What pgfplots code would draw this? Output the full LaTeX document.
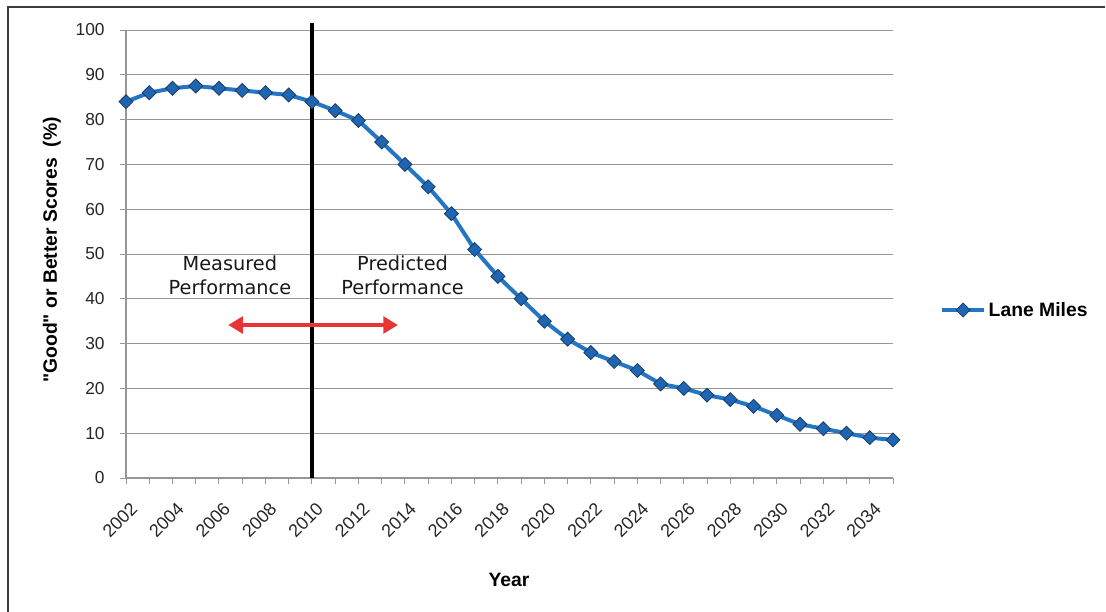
\documentclass[border=0pt]{standalone}
\usepackage{pgfplots}
\pgfplotsset{compat=1.18}
\usepackage{pgfplotstable}
\usepackage{fontspec}
\setmainfont{Liberation Sans}
\newfontfamily\plainsans{Liberation Sans}[Ligatures=TeXOff]
\newfontfamily\annofont{DejaVu Sans}
\usetikzlibrary{arrows.meta}
\definecolor{lineblue}{RGB}{36,117,196}
\definecolor{markfill}{RGB}{31,101,178}
\definecolor{markdraw}{RGB}{25,62,105}
\definecolor{gridgray}{RGB}{150,150,150}
\definecolor{arrowred}{RGB}{232,52,52}
\definecolor{framegray}{RGB}{60,60,60}

\pgfplotstableread{
year value
2002 84
2003 86
2004 87
2005 87.5
2006 87
2007 86.5
2008 86
2009 85.5
2010 84
2011 82
2012 79.8
2013 75
2014 70
2015 65
2016 59
2017 51
2018 45
2019 40
2020 35
2021 31
2022 28
2023 26
2024 24
2025 21
2026 20
2027 18.5
2028 17.5
2029 16
2030 14
2031 12
2032 11
2033 10
2034 9
2035 8.5
}\lanemiles

\begin{document}
\begin{tikzpicture}
\useasboundingbox (0,0) rectangle (829.5pt,-458.25pt);
\draw[line width=1.4pt, framegray] (6pt,-460pt) -- (6pt,-5.25pt) -- (829pt,-5.25pt);
\begin{axis}[
  at={(94.5pt,-358.5pt)}, anchor=south west,
  scale only axis, width=575.25pt, height=336pt,
  xmin=2002, xmax=2035, ymin=0, ymax=100,
  clip=false,
  axis lines*=left,
  axis line style={draw=gridgray, line width=0.8pt, -},
  ymajorgrids, grid style={draw=gridgray, line width=0.75pt},
  xtick={2002,2004,...,2034},
  minor xtick={2003,2005,...,2035},
  ytick={0,10,...,100},
  tick align=outside,
  major tick length=4.5pt, minor tick length=4.5pt,
  tick style={draw=gridgray, line width=0.75pt},
  minor tick style={draw=gridgray, line width=0.75pt},
  xmajorgrids=false, xminorgrids=false,
  /pgf/number format/assume math mode=true,
  /pgf/number format/1000 sep={},
  yticklabel style={font=\fontsize{13}{15}\selectfont, text=black!85, xshift=-8pt},
  xticklabel style={font=\fontsize{13.5}{15}\selectfont, text=black!85, rotate=45, anchor=east, yshift=-16pt, xshift=-4pt},
  xlabel={Year},
  xlabel style={at={(axis description cs:0.4993,-0.2277)}, anchor=center, font=\bfseries\fontsize{14.5}{16}\selectfont},
  ylabel={\plainsans "Good" or Better Scores\ \ (\%)},
  ylabel style={at={(axis description cs:-0.0965,0.509)}, anchor=center, font=\bfseries\fontsize{14.5}{16}\selectfont},
  legend style={at={(axis description cs:1.0613,0.375)}, anchor=west, draw=none, fill=none,
    font=\bfseries\fontsize{14.5}{16}\selectfont, inner sep=0pt},
  legend cell align=left,
  legend image code/.code={\draw[mark repeat=2,mark phase=2,#1] plot coordinates {(0cm,0cm) (0.55cm,0cm) (1.1cm,0cm)};},
]
\addplot[color=lineblue, line width=3pt, mark=square*, mark size=3.7pt,
  mark options={rotate=45, fill=markfill, draw=markdraw, line width=0.6pt}]
  table[x=year, y=value] {\lanemiles};
\addlegendentry{Lane Miles}
\draw[line width=3pt, black] (axis cs:2010,0) -- (axis cs:2010,101.6);
\draw[line width=3pt, arrowred, {Triangle[length=11pt,width=12.5pt]}-{Triangle[length=11pt,width=12.5pt]}]
  (axis cs:2006.4,34.15) -- (axis cs:2013.7,34.15);
\node[align=center, font=\annofont\fontsize{14.5}{18}\selectfont, text=black!90] at (axis cs:2006.47,45.3) {Measured\\Performance};
\node[align=center, font=\annofont\fontsize{14.5}{18}\selectfont, text=black!90] at (axis cs:2013.9,45.3) {Predicted\\Performance};
\end{axis}
\end{tikzpicture}
\end{document}
